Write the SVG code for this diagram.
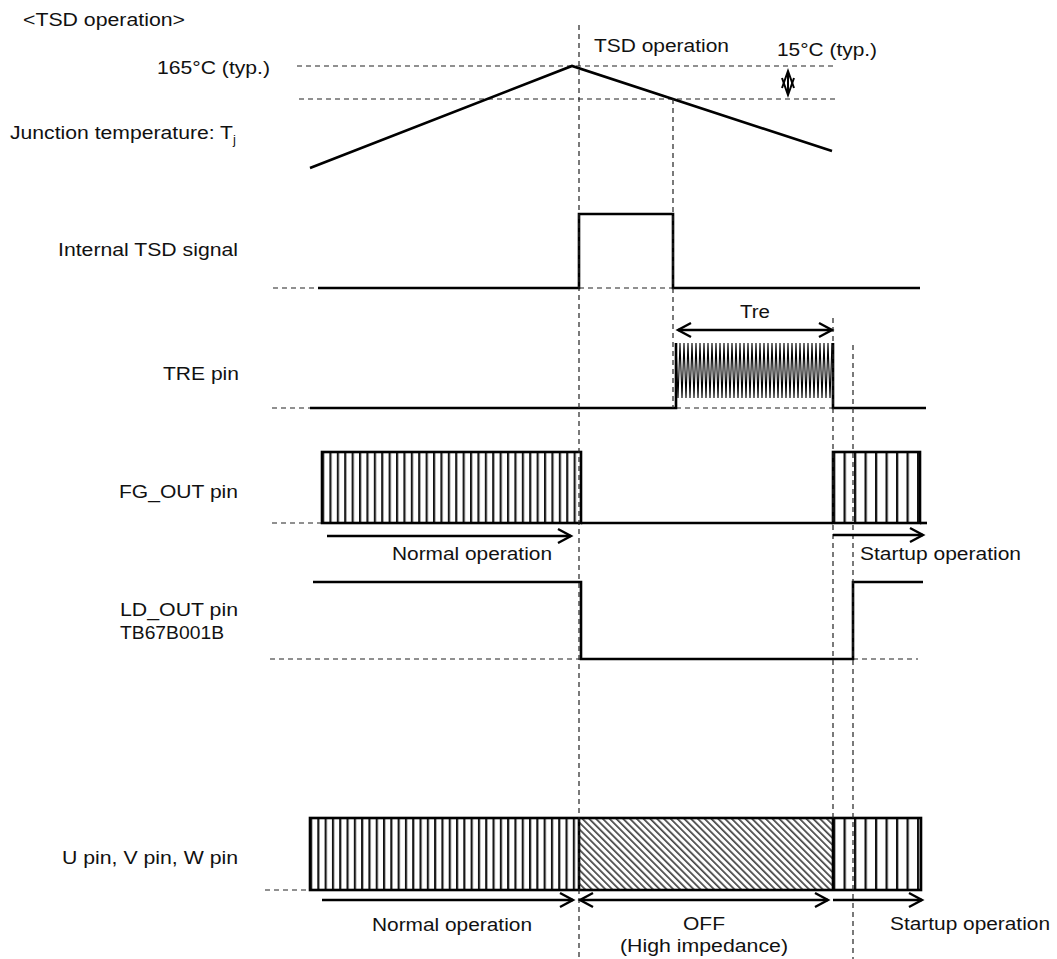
<svg xmlns="http://www.w3.org/2000/svg" width="1057" height="959" viewBox="0 0 1057 959">
<style>
text{font-family:"Liberation Sans",Arial,sans-serif;font-size:17.5px;fill:#111}
.sig{fill:none;stroke:#000;stroke-width:2.6;stroke-linejoin:miter}
.dash{fill:none;stroke:#222;stroke-width:1.2;stroke-dasharray:5,4}
.arr{fill:none;stroke:#000;stroke-width:2.4}
.box{stroke:#000;stroke-width:2.6}
</style>
<defs>
<marker id="ah" markerUnits="userSpaceOnUse" markerWidth="20" markerHeight="20" refX="15" refY="9" orient="auto-start-reverse">
<path d="M2,2 L15,9 L2,16" fill="none" stroke="#000" stroke-width="2.4"/>
</marker>
<pattern id="stripeN" patternUnits="userSpaceOnUse" x="322" y="0" width="7.4" height="10">
<rect x="0" y="0" width="7.4" height="10" fill="#fff"/>
<rect x="0" y="0" width="1.8" height="10" fill="#111"/>
<rect x="1.8" y="0" width="0.8" height="10" fill="#999"/>
</pattern>
<pattern id="stripeU" patternUnits="userSpaceOnUse" x="310" y="0" width="7.3" height="10">
<rect x="0" y="0" width="7.3" height="10" fill="#fff"/>
<rect x="0" y="0" width="1.8" height="10" fill="#111"/>
<rect x="1.8" y="0" width="0.8" height="10" fill="#999"/>
</pattern>
<pattern id="stripeS" patternUnits="userSpaceOnUse" x="833" y="0" width="10.5" height="10">
<rect x="0" y="0" width="10.5" height="10" fill="#fff"/>
<rect x="0" y="0" width="2" height="10" fill="#111"/>
<rect x="2" y="0" width="0.8" height="10" fill="#999"/>
</pattern>
<pattern id="hatch" patternUnits="userSpaceOnUse" width="4.8" height="10" patternTransform="rotate(-45)">
<rect x="0" y="0" width="4.8" height="10" fill="#fff"/>
<rect x="0" y="0" width="1.7" height="10" fill="#444"/>
</pattern>
</defs>
<rect width="1057" height="959" fill="#fff"/>

<text x="23" y="26" textLength="162" lengthAdjust="spacingAndGlyphs">&lt;TSD operation&gt;</text>

<g id="tj">
<text x="157" y="74" textLength="113" lengthAdjust="spacingAndGlyphs">165°C (typ.)</text>
<text x="10" y="139" textLength="223" lengthAdjust="spacingAndGlyphs">Junction temperature: T</text>
<text x="233" y="144" style="font-size:13px">j</text>
<line class="dash" x1="297" y1="66" x2="837" y2="66"/>
<line class="dash" x1="299" y1="99" x2="837" y2="99"/>
<polyline class="sig" points="310,168 572,66 832,151"/>
<text x="594" y="52" textLength="135" lengthAdjust="spacingAndGlyphs">TSD operation</text>
<text x="777" y="56" textLength="100" lengthAdjust="spacingAndGlyphs">15°C (typ.)</text>
<g fill="none" stroke="#000" stroke-width="2">
<line x1="788" y1="71" x2="788" y2="95"/>
<polyline points="782,88 788,71 794,88"/>
<polyline points="782,78 788,95 794,78"/>
</g>
</g>

<g id="tsd-signal">
<text x="58" y="256" textLength="180" lengthAdjust="spacingAndGlyphs">Internal TSD signal</text>
<line class="dash" x1="273" y1="288" x2="318" y2="288"/>
<line class="dash" x1="579" y1="288" x2="673" y2="288"/>
<polyline class="sig" points="318,288 579,288 579,214 673,214 673,288 920,288"/>
</g>

<g id="tre-pin">
<text x="163" y="380" textLength="76" lengthAdjust="spacingAndGlyphs">TRE pin</text>
<line class="dash" x1="272" y1="408" x2="310" y2="408"/>
<line class="dash" x1="676" y1="408" x2="833" y2="408"/>
<polyline class="sig" points="310,408 676,408 676,343"/>
<polyline fill="none" stroke="#000" stroke-width="1.1" points="676,343 678,398 680,343 682,398 684,343 686,398 688,343 690,398 692,343 694,398 696,343 698,398 700,343 702,398 704,343 706,398 708,343 710,398 712,343 714,398 716,343 718,398 720,343 722,398 724,343 726,398 728,343 730,398 732,343 734,398 736,343 738,398 740,343 742,398 744,343 746,398 748,343 750,398 752,343 754,398 756,343 758,398 760,343 762,398 764,343 766,398 768,343 770,398 772,343 774,398 776,343 778,398 780,343 782,398 784,343 786,398 788,343 790,398 792,343 794,398 796,343 798,398 800,343 802,398 804,343 806,398 808,343 810,398 812,343 814,398 816,343 818,398 820,343 822,398 824,343 826,398 828,343 830,398 832,343"/>
<polyline class="sig" points="833,343 833,408 926,408"/>
<text x="740" y="318" textLength="30" lengthAdjust="spacingAndGlyphs">Tre</text>
</g>

<g id="fg-out">
<text x="119" y="498" textLength="119" lengthAdjust="spacingAndGlyphs">FG_OUT pin</text>
<line class="dash" x1="272" y1="523" x2="322" y2="523"/>
<rect class="box" x="322" y="452" width="259" height="71" fill="url(#stripeN)"/>
<line class="sig" x1="581" y1="523" x2="833" y2="523"/>
<rect class="box" x="833" y="452" width="87" height="71" fill="url(#stripeS)"/>
<line class="sig" x1="920" y1="523" x2="927" y2="523"/>
<text x="392" y="560" textLength="160" lengthAdjust="spacingAndGlyphs">Normal operation</text>
<text x="860" y="560" textLength="161" lengthAdjust="spacingAndGlyphs">Startup operation</text>
</g>

<g id="ld-out">
<text x="120" y="616" textLength="118" lengthAdjust="spacingAndGlyphs">LD_OUT pin</text>
<text x="120" y="639" textLength="104" lengthAdjust="spacingAndGlyphs">TB67B001B</text>
<line class="dash" x1="270" y1="659" x2="581" y2="659"/>
<line class="dash" x1="853" y1="659" x2="918" y2="659"/>
<polyline class="sig" points="313,582 581,582 581,659 853,659 853,582 923,582"/>
</g>

<g id="uvw-pin">
<text x="62" y="864" textLength="176" lengthAdjust="spacingAndGlyphs">U pin, V pin, W pin</text>
<line class="dash" x1="265" y1="890" x2="310" y2="890"/>
<rect x="310" y="818" width="269" height="72" fill="url(#stripeU)"/>
<rect x="579" y="818" width="254" height="72" fill="url(#hatch)"/>
<rect x="833" y="818" width="88" height="72" fill="url(#stripeS)"/>
<rect class="box" x="310" y="818" width="611" height="72" fill="none"/>
<line class="box" x1="579" y1="818" x2="579" y2="890"/>
<line class="box" x1="833" y1="818" x2="833" y2="890"/>
<text x="372" y="931" textLength="160" lengthAdjust="spacingAndGlyphs">Normal operation</text>
<text x="683" y="930" textLength="42" lengthAdjust="spacingAndGlyphs">OFF</text>
<text x="620" y="952" textLength="168" lengthAdjust="spacingAndGlyphs">(High impedance)</text>
<text x="890" y="930" textLength="160" lengthAdjust="spacingAndGlyphs">Startup operation</text>
</g>

<g id="connectors">
<line class="dash" x1="579" y1="25" x2="579" y2="959"/>
<line class="dash" x1="673" y1="99" x2="673" y2="408"/>
<line class="dash" x1="833" y1="318" x2="833" y2="818"/>
<line class="dash" x1="853" y1="345" x2="853" y2="959"/>
<line class="arr" x1="678" y1="330" x2="832" y2="330" marker-start="url(#ah)" marker-end="url(#ah)"/>
<line class="arr" x1="327" y1="536" x2="571" y2="536" marker-end="url(#ah)"/>
<line class="arr" x1="833" y1="535" x2="923" y2="535" marker-end="url(#ah)"/>
<line class="arr" x1="322" y1="900" x2="573" y2="900" marker-end="url(#ah)"/>
<line class="arr" x1="580" y1="900" x2="828" y2="900" marker-start="url(#ah)" marker-end="url(#ah)"/>
<line class="arr" x1="833" y1="900" x2="922" y2="900" marker-end="url(#ah)"/>
</g>
</svg>
